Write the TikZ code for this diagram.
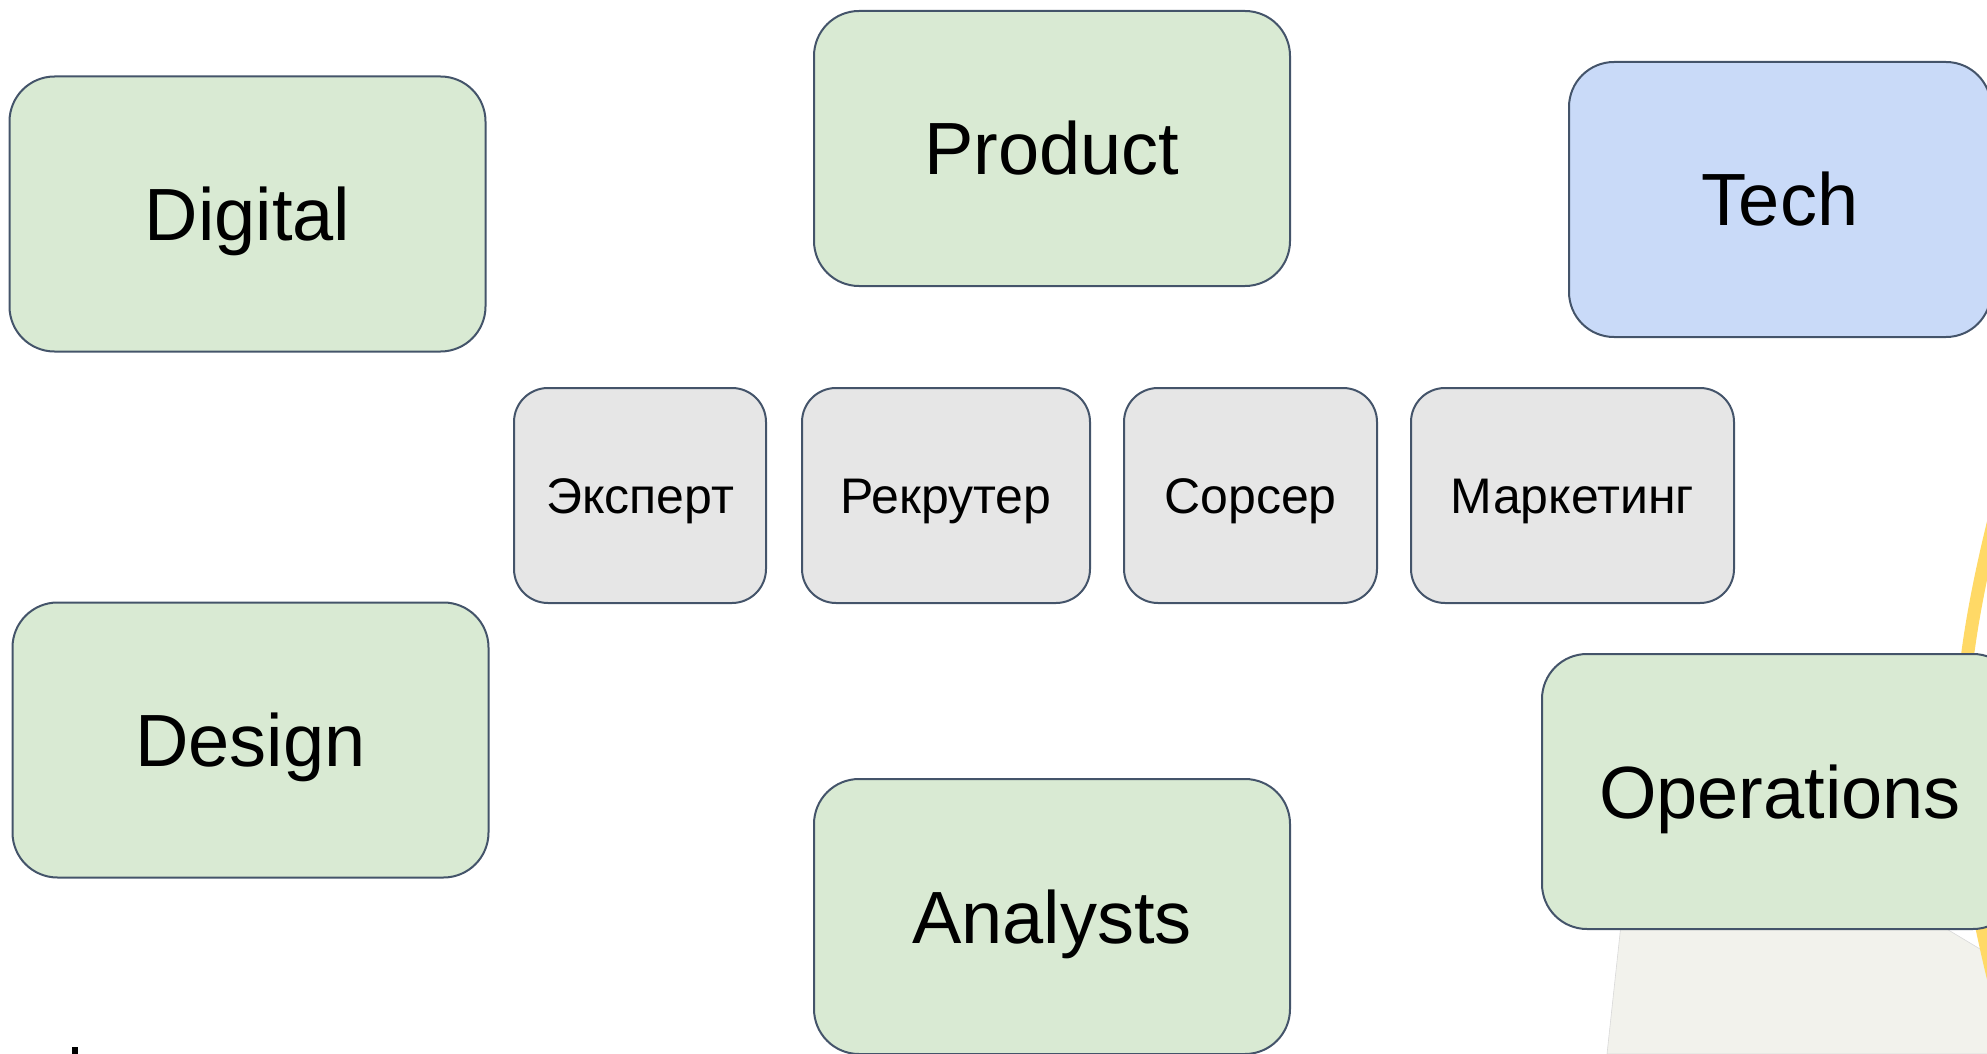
\documentclass[tikz,border=0pt]{standalone}
\usepackage{fontspec}
\setmainfont{Liberation Sans}
\usetikzlibrary{positioning}
\definecolor{teamgreen}{HTML}{D9EAD3}
\definecolor{teamblue}{HTML}{C9DAF8}
\definecolor{rolegrey}{HTML}{E6E6E6}
\definecolor{edgeslate}{HTML}{44546A}
\definecolor{arcyellow}{HTML}{FFD966}
\definecolor{paperbeige}{HTML}{F2F2EC}
\tikzset{team/.style={draw=edgeslate,line width=1pt,rounded corners=22.5pt,fill=teamgreen,minimum width=238pt,minimum height=137.5pt,text height=26.5pt,text depth=0pt,font=\fontsize{37}{44}\selectfont}}
\tikzset{role/.style={draw=edgeslate,line width=1pt,rounded corners=17pt,fill=rolegrey,minimum height=107.5pt,text height=17.9pt,text depth=0pt,font=\fontsize{25}{30}\selectfont}}

\begin{document}
\begin{tikzpicture}[x=0.5pt,y=-0.5pt,node distance=16pt]
      \useasboundingbox (0,0) rectangle (1987,1054);
      \clip (0,0) rectangle (1987,1054);
      % fragments cut off at the edges
      \filldraw[fill=paperbeige,draw=black!15,line width=0.3pt] (1607,1054) -- (1622,915) -- (1940,925) -- (1995,958) -- (1995,1054) -- cycle;
      \draw[arcyellow,line width=6.5pt] (1994,520) .. controls (1950,700) and (1950,800) .. (1995,985);
      \fill (72,1047) rectangle (78,1054);

      \node[team](digital) at (247.5,214) {Digital};
      \node[team](product) at (1052,148.5) {Product};
      \node[team,fill=teamblue,minimum width=211pt](tech) at (1780,199.5) {Tech};
      \node[team](design) at (250.5,740) {Design};
      \node[team](analysts) at (1052,916.5) {Analysts};
      \node[team](operations) at (1780,791.5) {Operations};

      \node[role,minimum width=126pt,anchor=west](expert) at (513,495.5) {Эксперт};
      \node[role,minimum width=144pt,right=17pt of expert](recruiter){Рекрутер};
      \node[role,minimum width=126.5pt,right=of recruiter](sourcer){Сорсер};
      \node[role,minimum width=161.5pt,right=of sourcer](marketing){Маркетинг};
    \end{tikzpicture}
\end{document}
